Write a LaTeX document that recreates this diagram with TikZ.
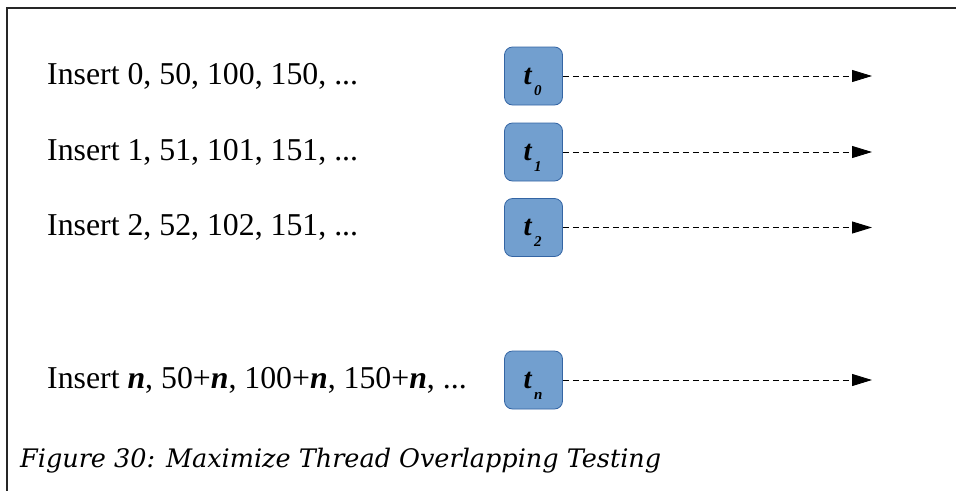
\documentclass[tikz,border=0pt]{standalone}
\usepackage{fontspec}
\setmainfont{Liberation Serif}
\newfontfamily\capfont{DejaVu Serif}
\usetikzlibrary{arrows.meta,calc}
\definecolor{boxfill}{HTML}{729FCF}
\definecolor{boxline}{HTML}{3465A4}
\begin{document}
\begin{tikzpicture}[x=1pt,y=-1pt,
  thread/.style={draw=boxline,fill=boxfill,line width=0.8pt,rounded corners=8pt,
    minimum width=58pt,minimum height=58pt,inner sep=0pt},
  tname/.style={inner sep=0pt,anchor=base west,font=\fontsize{29}{29}\selectfont\bfseries\itshape},
  tsub/.style={inner sep=0pt,anchor=base west,font=\fontsize{15}{15}\selectfont\bfseries\itshape},
  rowtext/.style={inner sep=0pt,anchor=base west,font=\fontsize{31.8}{36}\selectfont},
  flow/.style={line width=0.9pt,dash pattern=on 6pt off 4pt,
    -{Triangle[length=20pt,width=12pt]}},
  frame/.style={line width=1.4pt,draw=black!85}]
\useasboundingbox (0,0) rectangle (956,491);
% open frame: top and left rules
\draw[frame] (956,8) -- (7,8) -- (7,491);

\foreach \name/\y/\txt/\sub in {
  0/76/{Insert 0, 50, 100, 150, ...}/0,
  1/152/{Insert 1, 51, 101, 151, ...}/1,
  2/227.5/{Insert 2, 52, 102, 151, ...}/2,
  n/380/{Insert \textbf{\textit{n}}, 50+\textbf{\textit{n}}, 100+\textbf{\textit{n}}, 150+\textbf{\textit{n}}, ...}/n}{
  \node[rowtext] (txt\name) at (47,\y+8) {\txt};
  \node[thread] (t\name) at (533.5,\y) {};
  \node[tname] (tl\name) at ($(t\name.center)+(-10,8)$) {t};
  \node[tsub] (ts\name) at ($(t\name.center)+(0.5,19)$) {\sub};
  \coordinate (end\name) at (872,\y);
  \draw[flow] (t\name.east) -- (end\name);
}

\node[inner sep=0pt,anchor=base west,font=\capfont\itshape\fontsize{25.5}{29}\selectfont]
  (caption) at (20,467) {Figure 30: Maximize Thread Overlapping Testing};
\end{tikzpicture}
\end{document}
